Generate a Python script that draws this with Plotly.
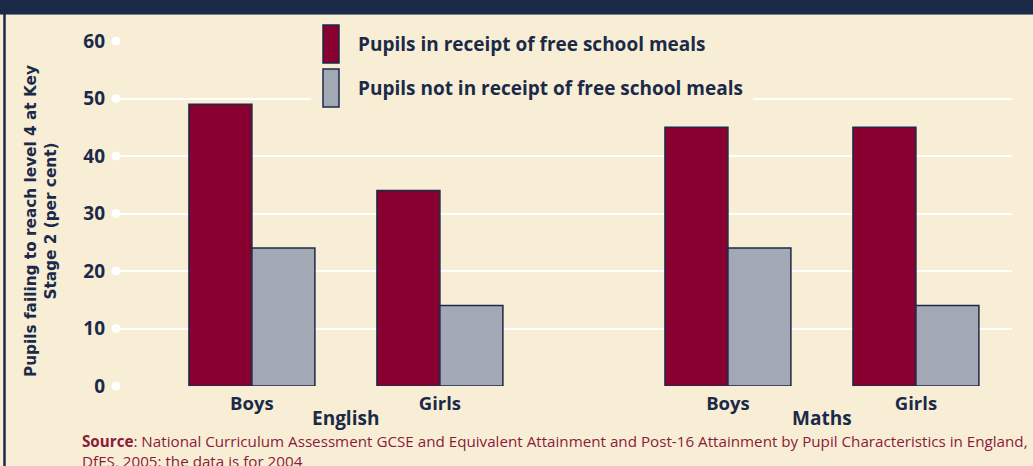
import plotly.graph_objects as go

# ---- data ----
subjects = ["English", "Maths"]
genders = ["Boys", "Girls"]
fsm = [49, 34, 45, 45]          # pupils in receipt of free school meals
non_fsm = [24, 14, 24, 14]      # pupils not in receipt of free school meals
series_names = ["Pupils in receipt of free school meals",
                "Pupils not in receipt of free school meals"]
y_ticks = [0, 10, 20, 30, 40, 50, 60]
y_title = "Pupils failing to reach level 4 at Key<br>Stage 2 (per cent)"
source_bold = "Source"
source_text = (": National Curriculum Assessment GCSE and Equivalent Attainment and "
               "Post-16 Attainment by Pupil Characteristics in England,<br>"
               "DfES, 2005: the data is for 2004")

# ---- style ----
NAVY = "#1B2A48"
MAROON = "#870030"
GREY = "#A3A9B4"
BG = "#F8EED6"
FONT = "Open Sans"
SUBJECT_STEP = 2.532  # x distance between subject groups

# category positions derived from indices
xpos = []
for si, _ in enumerate(subjects):
    for gi, _ in enumerate(genders):
        xpos.append(si * SUBJECT_STEP + gi)
xlabels = [g for _ in subjects for g in genders]
x_min, x_max = -0.723, 4.043

fig = go.Figure()
fig.add_bar(x=xpos, y=fsm, name=series_names[0], marker_color=MAROON,
            marker_line_color=NAVY, marker_line_width=1.5, showlegend=False,
            hoverinfo="skip")
fig.add_bar(x=xpos, y=non_fsm, name=series_names[1], marker_color=GREY,
            marker_line_color=NAVY, marker_line_width=1.5, showlegend=False,
            hoverinfo="skip")
# white dots at the start of each grid line
fig.add_scatter(x=[x_min] * len(y_ticks), y=y_ticks, mode="markers",
                marker=dict(color="white", size=9), cliponaxis=False,
                showlegend=False, hoverinfo="skip")

fig.update_layout(
    width=1033, height=466,
    margin=dict(l=116, r=21, t=41, b=80),
    paper_bgcolor=BG, plot_bgcolor=BG,
    barmode="group", bargap=0.33, bargroupgap=0,
    font=dict(family=FONT, color=NAVY),
    showlegend=False,
)
fig.update_xaxes(range=[x_min, x_max], tickvals=xpos, ticktext=xlabels,
                 showgrid=False, zeroline=False, showline=False, ticks="",
                 tickfont=dict(family=FONT, size=18.5, color=NAVY, weight="bold"),
                 ticklabelstandoff=4)
fig.update_yaxes(range=[0, 60], tickvals=y_ticks, showgrid=True,
                 gridcolor="white", gridwidth=2, zeroline=False, showline=False,
                 ticks="", ticklabelstandoff=10,
                 tickfont=dict(family=FONT, size=19, color=NAVY, weight="bold"))

# y-axis title
fig.add_annotation(text=y_title, xref="paper", yref="paper",
                   x=(41 - 116) / 896, y=(386 - 221) / 345, textangle=-90,
                   showarrow=False, xanchor="center", yanchor="middle",
                   font=dict(family="DejaVu Sans", size=15.3, color=NAVY,
                             weight="bold"))

# subject labels
for si, subj in enumerate(subjects):
    mid = si * SUBJECT_STEP + (len(genders) - 1) / 2
    fig.add_annotation(text=subj, x=mid, xref="x", y=(386 - 418) / 345,
                       yref="paper", showarrow=False, yanchor="middle",
                       font=dict(family=FONT, size=19, color=NAVY, weight="bold"))

# source
fig.add_annotation(text=f"<b>{source_bold}</b>{source_text}", xref="paper",
                   yref="paper", x=(80 - 116) / 896, y=(386 - 429) / 345,
                   xanchor="left", yanchor="top", align="left", showarrow=False,
                   font=dict(family=FONT, size=15.2, color="#8B1A3A"))

# custom legend
shapes = [
    # legend background covering grid lines
    dict(type="rect", xref="paper", yref="paper", x0=(311 - 116) / 896,
         x1=(753 - 116) / 896, y0=(386 - 112) / 345, y1=(386 - 18) / 345,
         fillcolor=BG, line_width=0, layer="above"),
    dict(type="rect", xref="paper", yref="paper", x0=(323 - 116) / 896,
         x1=(339 - 116) / 896, y0=(386 - 63) / 345, y1=(386 - 25) / 345,
         fillcolor=MAROON, line=dict(color=NAVY, width=1.5), layer="above"),
    dict(type="rect", xref="paper", yref="paper", x0=(323 - 116) / 896,
         x1=(339 - 116) / 896, y0=(386 - 107) / 345, y1=(386 - 69) / 345,
         fillcolor=GREY, line=dict(color=NAVY, width=1.5), layer="above"),
    # top band
    dict(type="rect", xref="paper", yref="paper", x0=-0.2, x1=1.1,
         y0=(386 - 14) / 345, y1=(386 + 5) / 345, fillcolor=NAVY,
         line_width=0, layer="above"),
    dict(type="line", xref="paper", yref="paper", x0=-0.2, x1=1.1,
         y0=(386 - 14.5) / 345, y1=(386 - 14.5) / 345,
         line=dict(color="#7A7F8A", width=1), layer="above"),
    # left border
    dict(type="line", xref="paper", yref="paper", x0=(4.5 - 116) / 896,
         x1=(4.5 - 116) / 896, y0=(386 - 470) / 345, y1=(386 - 14) / 345,
         line=dict(color=NAVY, width=2.5), layer="above"),
]
fig.update_layout(shapes=shapes)
for name, py in zip(series_names, [44, 88]):
    fig.add_annotation(text=name, xref="paper", yref="paper",
                       x=(356 - 116) / 896, y=(386 - py) / 345,
                       xanchor="left", yanchor="middle", showarrow=False,
                       font=dict(family=FONT, size=19, color=NAVY, weight="bold"))

fig.write_html("out.html",
               config={"displayModeBar": False},
               post_script="document.body.style.margin='0';"
                           "document.body.style.background='%s';" % BG)
